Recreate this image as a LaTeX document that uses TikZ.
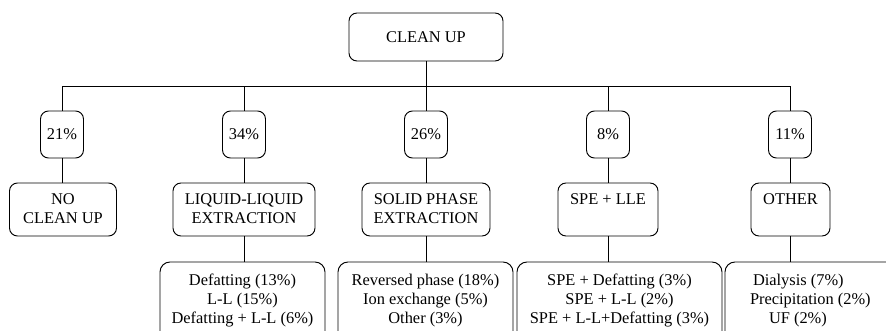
\documentclass[tikz,border=0pt]{standalone}
\usepackage{fontspec}
\setmainfont{Liberation Serif}
\newcommand\tbox[4]{\parbox[c][#1][t]{#2}{\centering\rule{0pt}{#3}#4}}
\begin{document}
\begin{tikzpicture}[x=1pt,y=-1pt,
  bx/.style={draw, rounded corners=8pt, line width=0.95pt, inner sep=0pt,
    font=\fontsize{16.4}{19}\selectfont},
  ln/.style={line width=0.95pt}]
\useasboundingbox (0,0) rectangle (886,330);
\clip (0,0) rectangle (886,330);
% top
\node[bx, minimum width=154pt, minimum height=48pt] (top) at (426,37) {CLEAN UP};
% percentages
\node[bx, minimum width=43pt, minimum height=47pt] (p1) at (62,134.5) {21\%};
\node[bx, minimum width=43pt, minimum height=47pt] (p2) at (244,134.5) {34\%};
\node[bx, minimum width=43pt, minimum height=47pt] (p3) at (426,134.5) {26\%};
\node[bx, minimum width=43pt, minimum height=47pt] (p4) at (608,134.5) {8\%};
\node[bx, minimum width=43pt, minimum height=47pt] (p5) at (790,134.5) {11\%};
% categories
\node[bx] (c1) at (63,209.5) {\tbox{53pt}{107pt}{21pt}{NO\\CLEAN UP}};
\node[bx] (c2) at (244,209.5) {\tbox{53pt}{142pt}{21pt}{LIQUID-LIQUID\\EXTRACTION}};
\node[bx] (c3) at (426,209.5) {\tbox{53pt}{128pt}{21pt}{SOLID PHASE\\EXTRACTION}};
\node[bx] (c4) at (608,209.5) {\tbox{53pt}{100pt}{21pt}{SPE + LLE}};
\node[bx] (c5) at (790.5,209.5) {\tbox{53pt}{79pt}{21pt}{OTHER}};
% details
\node[bx, rounded corners=10pt] (b2) at (242.5,306) {\tbox{88pt}{165pt}{23pt}{Defatting (13\%)\\L-L (15\%)\\Defatting + L-L (6\%)}};
\node[bx, rounded corners=10pt] (b3) at (425.5,306) {\tbox{88pt}{175pt}{23pt}{Reversed phase (18\%)\\Ion exchange (5\%)\\Other (3\%)}};
\node[bx, rounded corners=10pt] (b4) at (619.5,306) {\tbox{88pt}{205pt}{23pt}{SPE + Defatting (3\%)\\SPE + L-L (2\%)\\SPE + L-L+Defatting (3\%)}};
\node[bx, rounded corners=10pt] (b5) at (812.5,306) {\tbox{88pt}{175pt}{23pt}{\raggedright\hspace*{28pt}Dialysis (7\%)\\\hspace*{25pt}Precipitation (2\%)\\\hspace*{44pt}UF (2\%)}};
% connectors
\coordinate (bus) at (0,86);
\draw[ln] (top.south) -- (top.south |- bus);
\draw[ln] (p1.north) -- (p1.north |- bus) -- (p5.north |- bus) -- (p5.north);
\foreach \i in {2,3,4} \draw[ln] (p\i.north) -- (p\i.north |- bus);
\foreach \i in {1,...,5} \draw[ln] (p\i.south) -- (p\i.south |- c\i.north);
\foreach \i in {2,...,5} \draw[ln] (c\i.south) -- (c\i.south |- b\i.north);
\end{tikzpicture}
\end{document}
